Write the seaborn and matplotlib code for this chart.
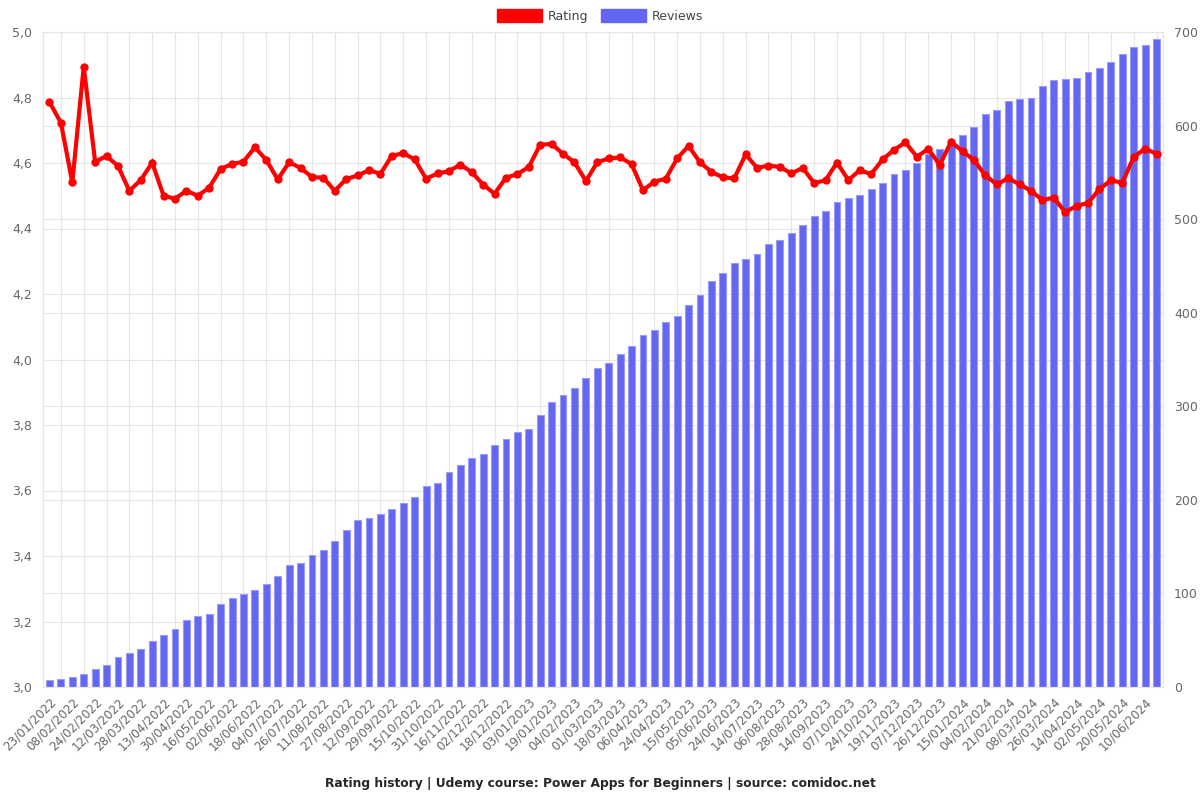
import numpy as np
import matplotlib
matplotlib.use("Agg")
import matplotlib.pyplot as plt
from matplotlib.patches import Patch
import seaborn as sns

# Data
tick_labels = [
    "23/01/2022", "08/02/2022", "24/02/2022", "12/03/2022", "28/03/2022", "13/04/2022",
    "30/04/2022", "16/05/2022", "02/06/2022", "18/06/2022", "04/07/2022", "26/07/2022",
    "11/08/2022", "27/08/2022", "12/09/2022", "29/09/2022", "15/10/2022", "31/10/2022",
    "16/11/2022", "02/12/2022", "18/12/2022", "03/01/2023", "19/01/2023", "04/02/2023",
    "01/03/2023", "18/03/2023", "06/04/2023", "24/04/2023", "15/05/2023", "05/06/2023",
    "24/06/2023", "14/07/2023", "06/08/2023", "28/08/2023", "14/09/2023", "07/10/2023",
    "24/10/2023", "19/11/2023", "07/12/2023", "26/12/2023", "15/01/2024", "04/02/2024",
    "21/02/2024", "08/03/2024", "26/03/2024", "14/04/2024", "02/05/2024", "20/05/2024",
    "10/06/2024",
]

ratings = [
    4.786, 4.723, 4.541, 4.894, 4.604, 4.621, 4.591, 4.515, 4.548, 4.601,
    4.500, 4.491, 4.515, 4.500, 4.525, 4.582, 4.597, 4.604, 4.648, 4.609,
    4.550, 4.602, 4.585, 4.557, 4.555, 4.515, 4.551, 4.562, 4.578, 4.567,
    4.622, 4.630, 4.611, 4.552, 4.568, 4.575, 4.595, 4.572, 4.534, 4.506,
    4.555, 4.566, 4.588, 4.656, 4.658, 4.628, 4.602, 4.545, 4.602, 4.614,
    4.617, 4.597, 4.517, 4.543, 4.552, 4.614, 4.652, 4.602, 4.573, 4.556,
    4.553, 4.626, 4.585, 4.592, 4.588, 4.568, 4.585, 4.539, 4.547, 4.601,
    4.548, 4.578, 4.566, 4.611, 4.640, 4.663, 4.619, 4.643, 4.594, 4.665,
    4.636, 4.609, 4.562, 4.535, 4.553, 4.535, 4.515, 4.487, 4.494, 4.450,
    4.469, 4.478, 4.520, 4.547, 4.540, 4.618, 4.644, 4.628,
]

reviews = [
    7, 9, 11, 14, 19, 24, 32, 36, 41, 49,
    56, 62, 72, 76, 78, 89, 95, 99, 104, 110,
    119, 130, 132, 141, 146, 156, 168, 178, 181, 185,
    190, 197, 203, 215, 218, 230, 237, 245, 249, 259,
    265, 272, 276, 291, 305, 312, 320, 330, 341, 346,
    356, 364, 376, 382, 390, 397, 408, 419, 434, 442,
    453, 457, 463, 473, 478, 485, 494, 503, 509, 518,
    523, 526, 532, 539, 548, 553, 560, 570, 575, 581,
    590, 599, 612, 617, 626, 628, 630, 642, 649, 650,
    651, 657, 661, 668, 676, 684, 686, 692,
]

RED = "#ff0000"
BLUE = "#6366f1"
GRID = "#e6e6e6"
TXT = "#666666"

sns.set_style("white")
plt.rcParams["font.family"] = ["DejaVu Sans"]

idx = np.arange(len(reviews))

fig = plt.figure(figsize=(12, 8), dpi=100)
ax = fig.add_axes([0.036, 0.14125, 0.933, 0.81875])  # reviews (right axis)
ax2 = ax.twinx()                                      # rating (left axis)

# bars
sns.barplot(x=idx, y=reviews, ax=ax, color=BLUE, saturation=1, width=0.6,
            edgecolor="#9a9cf6", linewidth=0.8, zorder=2)
ax.set_ylim(0, 700)
ax.set_yticks(np.arange(0, 701, 100))
ax.set_yticks(np.linspace(0, 700, 11), minor=True)
ax.yaxis.tick_right()
ax.set_xlim(-0.55, len(reviews) - 0.45)
ax.set_xticks(idx[::2])
ax.set_xticklabels(tick_labels, rotation=45, ha="right", rotation_mode="anchor",
                   fontsize=8.6, color=TXT)
ax.set_xticks(idx[1::2], minor=True)
ax.tick_params(axis="x", which="major", length=0, pad=6)
ax.tick_params(axis="x", which="minor", length=7, color=GRID, width=0.8)
ax.tick_params(axis="y", which="major", length=0, labelsize=9, labelcolor=TXT, pad=8)
ax.tick_params(axis="y", which="minor", length=0)
ax.grid(True, axis="x", which="minor", color=GRID, lw=0.8)
ax.grid(True, axis="y", which="both", color=GRID, lw=0.8)
ax.set_axisbelow(True)
ax.set_xlabel("")
ax.set_ylabel("")

# rating line on top
ax.set_zorder(1)
ax2.set_zorder(2)
ax2.patch.set_visible(False)
sns.lineplot(x=idx, y=ratings, ax=ax2, color=RED, lw=3, marker="o",
             markersize=6, markeredgewidth=0, solid_joinstyle="miter")
ax2.set_ylim(3.0, 5.0)
ax2.set_yticks(np.arange(3.0, 5.01, 0.2))
ax2.set_yticklabels([f"{v:.1f}".replace(".", ",") for v in np.arange(3.0, 5.01, 0.2)])
ax2.yaxis.tick_left()
ax2.tick_params(axis="y", length=0, labelsize=9, labelcolor=TXT, pad=8)
ax2.grid(False)
ax2.set_ylabel("")

for a in (ax, ax2):
    for s in a.spines.values():
        s.set_color(GRID)
        s.set_linewidth(0.8)

handles = [Patch(facecolor=RED, edgecolor=RED), Patch(facecolor=BLUE, edgecolor=BLUE)]
fig.legend(handles, ["Rating", "Reviews"], loc="upper center", bbox_to_anchor=(0.5, 1.003),
           ncol=2, frameon=False, fontsize=9, handlelength=3.6, handleheight=1.3,
           handletextpad=0.5, columnspacing=1.0, labelcolor="#444444")

fig.text(0.5, 0.021, "Rating history | Udemy course: Power Apps for Beginners | source: comidoc.net",
         ha="center", va="center", fontsize=8.8, fontweight="bold")

fig.savefig("out.png", dpi=100)
